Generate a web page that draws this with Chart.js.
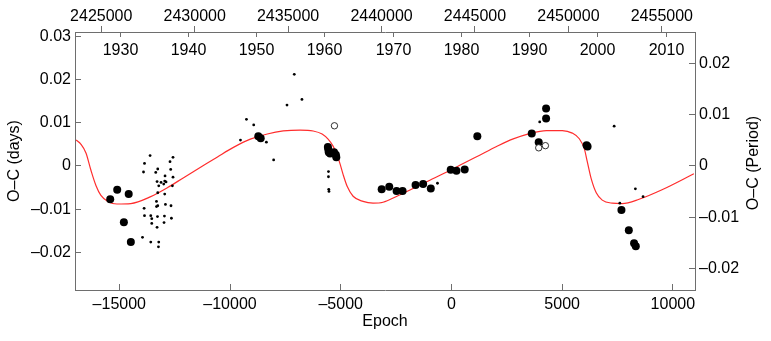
<!DOCTYPE html>
<html>
<head>
<meta charset="utf-8">
<script src="https://cdn.jsdelivr.net/npm/chart.js@4/dist/chart.umd.min.js"></script>
<style>
  html, body { margin: 0; padding: 0; background: #fff; }
  #wrap { width: 771px; height: 341px; }
</style>
</head>
<body>
<div id="wrap"><canvas id="ocChart" width="771" height="341"></canvas></div>
<script>
// O-C diagram: epoch on the bottom, JD and calendar year along the top,
// O-C in days on the left and in units of the period on the right.

// ephemeris used to relate epoch, JD and year on the top axes
var T0 = 2443740, P = 1.185;
var epochMin = -17000, epochMax = 11000;
var ocMin = -0.0287, ocMax = 0.0310;

var epochTicks = [-15000, -10000, -5000, 0, 5000, 10000];
var jdTicks = [2425000, 2430000, 2435000, 2440000, 2445000, 2450000, 2455000];
var yearTicks = [1930, 1940, 1950, 1960, 1970, 1980, 1990, 2000, 2010];
var daysTicks = [-0.02, -0.01, 0, 0.01, 0.02, 0.03];
var periodTicks = [-0.02, -0.01, 0, 0.01, 0.02];

// large filled points
var bigE = [-15410, -15094, -14575, -14793, -14478,
  -8722, -8614,
  -5580, -5560, -5540, -5480, -5300, -5220, -5200,
  -3150, -2808, -2477, -2207, -1620, -1278, -932,
  -32, 225, 599, 1170,
  3627, 3942, 4275, 4275,
  6103, 6148,
  7678, 8011, 8249, 8326];
var bigOC = [-0.0077, -0.0055, -0.0065, -0.0130, -0.0176,
  0.0069, 0.0064,
  0.0044, 0.0038, 0.0032, 0.0029, 0.0032, 0.0026, 0.0020,
  -0.0054, -0.0048, -0.0058, -0.0058, -0.0044, -0.0042, -0.0052,
  -0.0009, -0.0011, -0.0008, 0.0069,
  0.0075, 0.0055, 0.0110, 0.0133,
  0.0048, 0.0045,
  -0.0102, -0.0149, -0.0179, -0.0186];

// small dots
var smallE = [-13609, -12574, -13861, -12709, -13906, -13353, -13263, -12678, -12934, -13294,
  -13114, -12948, -12889, -12993, -12574, -12601, -13218, -12948, -13263, -13321,
  -13263, -13321, -12916, -12664, -13879, -13578, -13861, -13533, -13276, -12961,
  -12646, -12979, -13533, -13294, -13951, -13578, -13218, -13231,
  -9527, -9257, -8929, -8357, -8029, -7097, -7426, -6751,
  -5553, -5553, -5540, -5530,
  -630, 3987, 7349, 7605, 8308, 8654];
var smallOC = [0.0024, 0.0020, 0.0006, 0.0010, -0.0014, -0.0015, -0.0007, -0.0008, -0.0023, -0.0036,
  -0.0038, -0.0035, -0.0037, -0.0042, -0.0026, -0.0046, -0.0046, -0.0065, -0.0062, -0.0082,
  -0.0092, -0.0094, -0.0089, -0.0092, -0.0098, -0.0115, -0.0115, -0.0122, -0.0117, -0.0116,
  -0.0121, -0.0131, -0.0133, -0.0142, -0.0165, -0.0176, -0.0176, -0.0187,
  0.0060, 0.0108, 0.0095, 0.0055, 0.0014, 0.0212, 0.0141, 0.0154,
  -0.0013, -0.0025, -0.0054, -0.0059,
  -0.0040, 0.0102, 0.0092, -0.0086, -0.0053, -0.0071];

// open circles
var openE = [-5283, 3942, 4244];
var openOC = [0.0093, 0.0042, 0.0047];

// fitted curve
var fitE = [-16950, -16730, -16505, -16280, -16055, -15830, -15515, -15110, -14480, -13580,
  -12815, -12095, -11330, -10565, -9845, -9080, -8315, -7595, -6830, -6245,
  -5840, -5570, -5345, -5160, -5030, -4890, -4710, -4440, -3990, -3540,
  -3090, -2460, -1740, -975, -210, 510, 1275, 2040, 2760, 3525,
  4290, 5010, 5460, 5775, 6000, 6135, 6315, 6540, 6810, 7260,
  7710, 8475, 9510, 10950];
var fitOC = [0.0060, 0.0050, 0.0030, -0.0010, -0.0045, -0.0068, -0.0082, -0.0088, -0.0087, -0.0071,
  -0.0050, -0.0027, -0.0003, 0.0021, 0.0043, 0.0062, 0.0074, 0.0081, 0.0083, 0.0081,
  0.0074, 0.0062, 0.0046, 0.0025, 0.0005, -0.0020, -0.0047, -0.0070, -0.0082, -0.0086,
  -0.0084, -0.0070, -0.0052, -0.0033, -0.0014, 0.0005, 0.0025, 0.0045, 0.0062, 0.0075,
  0.0082, 0.0082, 0.0076, 0.0063, 0.0040, 0.0010, -0.0030, -0.0062, -0.0079, -0.0086,
  -0.0087, -0.0077, -0.0055, -0.0018];

var axisColor = '#6e6e6e';
var FONT = '"Liberation Sans", Arial, Helvetica, sans-serif';
Chart.defaults.font.family = FONT;
Chart.defaults.font.size = 16;
Chart.defaults.color = '#000';

function pts(xs, ys) {
  return xs.map(function(x, i) { return { x: x, y: ys[i] }; });
}
function signed(v, dec) {
  if (v === 0) return '0';
  var s = dec == null ? String(Math.abs(v)) : Math.abs(v).toFixed(dec);
  return (v < 0 ? '\u2013' : '') + s;
}
function useTicks(list) {
  return function(scale) { scale.ticks = list.map(function(v) { return { value: v }; }); };
}

// calendar years just inside the top border, and the right-hand title
// which reads bottom-to-top like the left one
var extraText = {
  id: 'extraText',
  afterDraw: function(chart) {
    var ctx = chart.ctx, xs = chart.scales.x, area = chart.chartArea, top = area.top;
    ctx.save();
    ctx.strokeStyle = axisColor;
    ctx.lineWidth = 1;
    ctx.fillStyle = '#000';
    ctx.font = '16px ' + FONT;
    ctx.textAlign = 'center';
    ctx.textBaseline = 'middle';
    yearTicks.forEach(function(yr) {
      var jd = 2451545 + (yr - 2000) * 365.25;
      var x = Math.round(xs.getPixelForValue((jd - T0) / P)) + 0.5;
      ctx.beginPath();
      ctx.moveTo(x, top);
      ctx.lineTo(x, top + 5);
      ctx.stroke();
      ctx.fillText(String(yr), x, top + 19);
    });
    ctx.translate(754, (area.top + area.bottom) / 2 + 2);
    ctx.rotate(-Math.PI / 2);
    ctx.fillText('O\u2013C (Period)', 0, 0);
    ctx.restore();
  }
};

new Chart(document.getElementById('ocChart'), {
  type: 'scatter',
  data: {
    datasets: [{
      label: 'open',
      data: pts(openE, openOC),
      pointRadius: 3.2,
      pointBackgroundColor: '#fff',
      pointBorderColor: '#000',
      pointBorderWidth: 0.8
    }, {
      label: 'big',
      data: pts(bigE, bigOC),
      pointRadius: 4,
      pointBackgroundColor: '#000',
      pointBorderWidth: 0
    }, {
      label: 'small',
      data: pts(smallE, smallOC),
      pointRadius: 1.4,
      pointBackgroundColor: '#000',
      pointBorderWidth: 0
    }, {
      label: 'fit',
      data: pts(fitE, fitOC),
      showLine: true,
      pointRadius: 0,
      borderColor: '#ff2d2d',
      borderWidth: 1.2,
      cubicInterpolationMode: 'monotone'
    }]
  },
  options: {
    responsive: false,
    animation: false,
    layout: { padding: 0 },
    plugins: { legend: { display: false }, tooltip: { enabled: false } },
    scales: {
      x: {
        type: 'linear', position: 'bottom', min: epochMin, max: epochMax,
        afterBuildTicks: useTicks(epochTicks),
        afterFit: function(s) { s.height = 51; },
        ticks: { padding: 11, maxRotation: 0, callback: function(v) { return signed(v); } },
        grid: { drawOnChartArea: false, tickLength: -6, color: axisColor },
        border: { color: axisColor },
        title: { display: true, text: 'Epoch', padding: { top: 0, bottom: 10 } }
      },
      jd: {
        type: 'linear', position: 'top', min: T0 + P * epochMin, max: T0 + P * epochMax,
        afterBuildTicks: useTicks(jdTicks),
        afterFit: function(s) { s.height = 32; },
        ticks: { padding: 0, maxRotation: 0, callback: function(v) { return String(v); } },
        grid: { drawOnChartArea: false, tickLength: 6, color: axisColor },
        border: { color: axisColor }
      },
      y: {
        type: 'linear', position: 'left', min: ocMin, max: ocMax,
        afterBuildTicks: useTicks(daysTicks),
        afterFit: function(s) { s.width = 75; },
        ticks: { padding: 10, callback: function(v) { return signed(v, 2); } },
        grid: { drawOnChartArea: false, tickLength: -6, color: axisColor },
        border: { color: axisColor },
        title: { display: true, text: 'O\u2013C (days)', padding: { top: 5, bottom: 0 } }
      },
      y2: {
        type: 'linear', position: 'right', min: ocMin / P, max: ocMax / P,
        afterBuildTicks: useTicks(periodTicks),
        afterFit: function(s) { s.width = 76; },
        ticks: { padding: 10, callback: function(v) { return signed(v, 2); } },
        grid: { drawOnChartArea: false, tickLength: -6, color: axisColor },
        border: { color: axisColor }
      }
    }
  },
  plugins: [extraText]
});
</script>
</body>
</html>
